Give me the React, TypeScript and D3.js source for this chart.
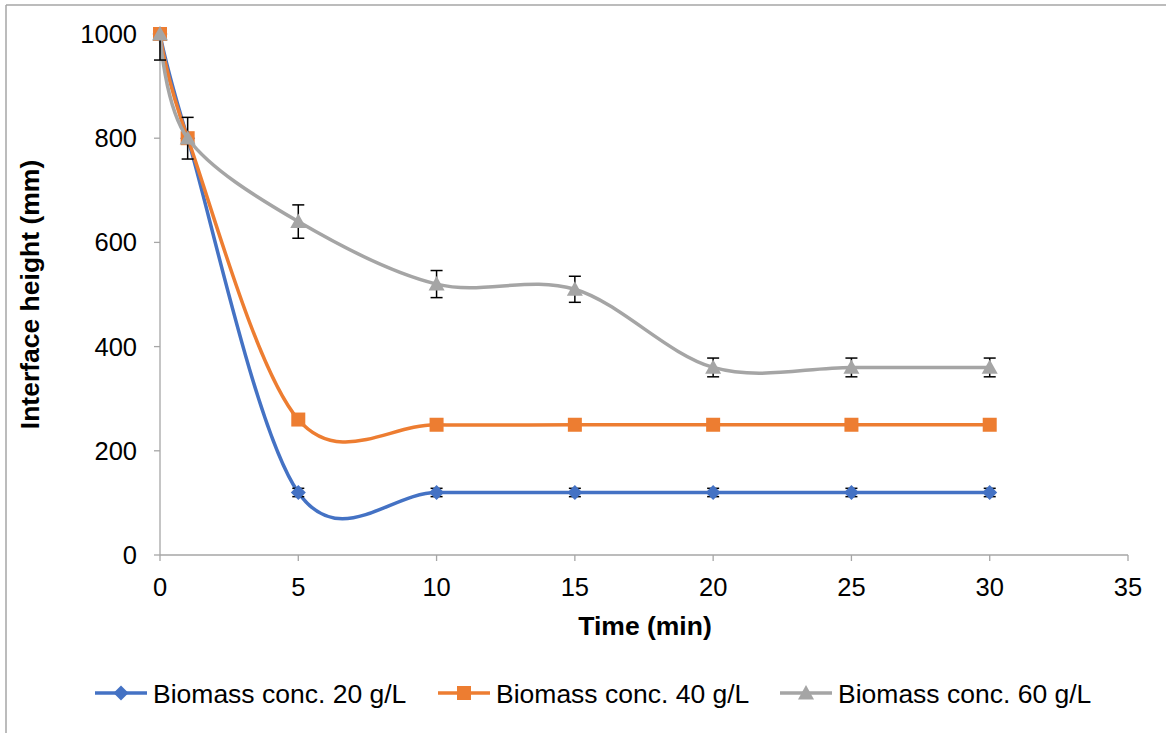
import React from "react";
import * as d3 from "d3";

const times = [0, 1, 5, 10, 15, 20, 25, 30];
const conc20 = [1000, 800, 120, 120, 120, 120, 120, 120];
const conc40 = [1000, 800, 260, 250, 250, 250, 250, 250];
const conc60 = [1000, 800, 640, 520, 510, 360, 360, 360];
const err20 = [8, 8, 8, 8, 8, 8, 8, 8];
const err60 = [50, 40, 32, 26, 25, 18, 18, 18];
const xTicks = [0, 5, 10, 15, 20, 25, 30, 35];
const yTicks = [0, 200, 400, 600, 800, 1000];
const seriesNames = ["Biomass conc. 20 g/L", "Biomass conc. 40 g/L", "Biomass conc. 60 g/L"];

const W = 1166;
const H = 733;
const left = 160, right = 1128, top = 34, bottom = 555;
const FONT = "'Liberation Sans', Arial, sans-serif";

const x = d3.scaleLinear().domain([0, 35]).range([left, right]);
const y = d3.scaleLinear().domain([0, 1000]).range([bottom, top]);

const line = d3
  .line<[number, number]>()
  .x((d) => x(d[0]))
  .y((d) => y(d[1]))
  .curve(d3.curveCardinal.tension(0));

function Marker({ kind, cx, cy, color }: { kind: string; cx: number; cy: number; color: string }) {
  if (kind === "diamond") {
    const r = 7.5;
    return <path d={`M${cx},${cy - r}L${cx + r},${cy}L${cx},${cy + r}L${cx - r},${cy}Z`} fill={color} />;
  }
  if (kind === "square") {
    const r = 7;
    return <rect x={cx - r} y={cy - r} width={2 * r} height={2 * r} fill={color} />;
  }
  const r = 8;
  return <path d={`M${cx},${cy - r}L${cx + r},${cy + r * 0.8}L${cx - r},${cy + r * 0.8}Z`} fill={color} />;
}

function ErrorBars({ values, errs }: { values: number[]; errs: number[] }) {
  return (
    <g stroke="#000" strokeWidth={1.5} clipPath="url(#plotClip)">
      {times.map((t, i) => {
        const cx = x(t);
        const y1 = y(values[i] + errs[i]);
        const y2 = y(values[i] - errs[i]);
        return (
          <g key={i}>
            <line x1={cx} x2={cx} y1={y1} y2={y2} />
            <line x1={cx - 6} x2={cx + 6} y1={y1} y2={y1} />
            <line x1={cx - 6} x2={cx + 6} y1={y2} y2={y2} />
          </g>
        );
      })}
    </g>
  );
}

const series = [
  { name: seriesNames[0], values: conc20, color: "#4472C4", kind: "diamond", errs: err20 },
  { name: seriesNames[1], values: conc40, color: "#ED7D31", kind: "square", errs: null as number[] | null },
  { name: seriesNames[2], values: conc60, color: "#A5A5A5", kind: "triangle", errs: err60 },
];

const legendStarts = [95, 438, 780];

export default function App() {
  return (
    <svg width={W} height={H} style={{ position: "absolute", left: 0, top: 0, background: "#fff" }}>
      <defs>
        <clipPath id="plotClip">
          <rect x={left - 20} y={top} width={right - left + 40} height={bottom - top + 20} />
        </clipPath>
      </defs>
      <rect x={0} y={0} width={W} height={H} fill="#fff" />
      {/* chart frame */}
      <line x1={6} x2={W} y1={5} y2={5} stroke="#a6a6a6" strokeWidth={1.5} />
      <line x1={6} x2={6} y1={5} y2={H} stroke="#a6a6a6" strokeWidth={1.5} />

      {/* axes */}
      <line x1={left} x2={right} y1={y(0)} y2={y(0)} stroke="#a6a6a6" strokeWidth={1.3} />
      <line x1={left} x2={left} y1={top} y2={y(0)} stroke="#a6a6a6" strokeWidth={1.3} />
      {xTicks.map((t) => (
        <g key={"xt" + t}>
          <line x1={x(t)} x2={x(t)} y1={y(0)} y2={y(0) + 6} stroke="#a6a6a6" strokeWidth={1.3} />
          <text x={x(t)} y={y(0) + 41} textAnchor="middle" fontFamily={FONT} fontSize={25.5} fill="#000">
            {t}
          </text>
        </g>
      ))}
      {yTicks.map((v) => (
        <g key={"yt" + v}>
          <line x1={left - 6} x2={left} y1={y(v)} y2={y(v)} stroke="#a6a6a6" strokeWidth={1.3} />
          <text x={left - 23} y={y(v) + 9} textAnchor="end" fontFamily={FONT} fontSize={25.5} fill="#000">
            {v}
          </text>
        </g>
      ))}

      {/* axis titles */}
      <text x={645} y={635} textAnchor="middle" fontFamily={FONT} fontSize={26.5} fontWeight="bold">
        Time (min)
      </text>
      <text
        transform={`translate(39,${(top + bottom) / 2}) rotate(-90)`}
        textAnchor="middle"
        fontFamily={FONT}
        fontSize={26.5}
        fontWeight="bold"
      >
        Interface height (mm)
      </text>

      {/* series */}
      {series.map((s) => {
        const pts = times.map((t, i) => [t, s.values[i]] as [number, number]);
        return (
          <g key={s.name}>
            <path d={line(pts) || ""} fill="none" stroke={s.color} strokeWidth={3.5} strokeLinejoin="round" />
            {s.errs && <ErrorBars values={s.values} errs={s.errs} />}
            {pts.map((p, i) => (
              <Marker key={i} kind={s.kind} cx={x(p[0])} cy={y(p[1])} color={s.color} />
            ))}
          </g>
        );
      })}

      {/* legend */}
      {series.map((s, i) => {
        const x1 = legendStarts[i];
        const x2 = x1 + 52;
        const cy = 693;
        return (
          <g key={"lg" + i}>
            <line x1={x1} x2={x2} y1={cy} y2={cy} stroke={s.color} strokeWidth={3.5} />
            <Marker kind={s.kind} cx={(x1 + x2) / 2} cy={cy} color={s.color} />
            <text x={x1 + 58} y={cy + 9.5} fontFamily={FONT} fontSize={26.5} fill="#000">
              {s.name}
            </text>
          </g>
        );
      })}
    </svg>
  );
}
